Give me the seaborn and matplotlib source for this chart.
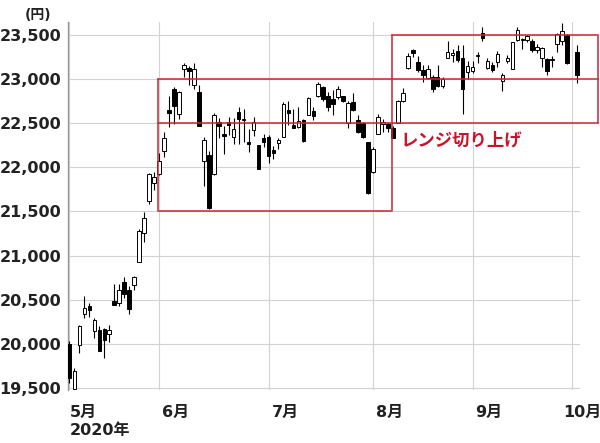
import numpy as np
import pandas as pd
import matplotlib
matplotlib.use("Agg")
import matplotlib.pyplot as plt
from matplotlib.transforms import ScaledTranslation
import seaborn as sns

# trading days (Oct 1 2020 had no trading, kept as an empty slot)
days = {
    5: [1, 7, 8, 11, 12, 13, 14, 15, 18, 19, 20, 21, 22, 25, 26, 27, 28, 29],
    6: [1, 2, 3, 4, 5, 8, 9, 10, 11, 12, 15, 16, 17, 18, 19, 22, 23, 24, 25, 26, 29, 30],
    7: [1, 2, 3, 6, 7, 8, 9, 10, 13, 14, 15, 16, 17, 20, 21, 22, 27, 28, 29, 30, 31],
    8: [3, 4, 5, 6, 7, 11, 12, 13, 14, 17, 18, 19, 20, 21, 24, 25, 26, 27, 28, 31],
    9: [1, 2, 3, 4, 7, 8, 9, 10, 11, 14, 15, 16, 17, 18, 23, 24, 25, 28, 29, 30],
    10: [1, 2],
}

opens = [20000, 19490, 19990, 20340, 20430, 20145, 20155, 20165, 20110, 20485, 20460, 20700, 20610, 20665, 20930, 21255, 21615, 21820,
         21920, 22180, 22650, 22880, 22600, 23115, 23125, 22930, 22845, 22065, 22140, 21920, 22510, 22370, 22515, 22345, 22625, 22535, 22285, 22415, 22255, 22335,
         22345, 22195, 22270, 22345, 22650, 22480, 22450, 22535, 22595, 22630, 22800, 22910, 22810, 22770, 22790, 22800, 22495, 22735, 22535, 22495, 22280,
         21950, 22380, 22485, 22485, 22440, 22495, 22745, 23125, 23325, 23190, 23095, 23005, 23020, 23020, 22915, 23240, 23265, 23310, 23240, 23080,
         23090, 23255, 23520, 23125, 23160, 23185, 22970, 23200, 23115, 23435, 23440, 23440, 23430, 23325, 23240, 23220, 23210, 23390, 23430, 23490,
         np.nan, 23305]
highs = [20030, 19730, 20215, 20540, 20460, 20295, 20200, 20185, 20215, 20675, 20675, 20755, 20655, 20765, 21300, 21490, 21930, 21950,
         22155, 22400, 22810, 22910, 22865, 23180, 23140, 23180, 22925, 22345, 22180, 22610, 22560, 22470, 22570, 22555, 22685, 22655, 22435, 22570, 22255, 22370,
         22365, 22240, 22330, 22735, 22745, 22660, 22675, 22540, 22790, 22680, 22965, 22920, 22845, 22870, 22920, 22810, 22750, 22835, 22585, 22510, 22290,
         22230, 22605, 22550, 22515, 22460, 22760, 22890, 23290, 23340, 23255, 23150, 23150, 23040, 23150, 23020, 23430, 23340, 23380, 23380, 23200,
         23200, 23300, 23585, 23230, 23195, 23310, 23060, 23270, 23420, 23590, 23465, 23495, 23445, 23390, 23360, 23240, 23255, 23520, 23625, 23510,
         np.nan, 23380]
lows = [19560, 19480, 19900, 20300, 20310, 20070, 19920, 19845, 20020, 20445, 20430, 20520, 20345, 20610, 20930, 21150, 21585, 21745,
        21910, 22115, 22455, 22490, 22545, 23020, 22925, 22880, 22460, 21785, 21530, 21910, 22325, 22150, 22360, 22265, 22265, 22290, 22175, 22355, 21975, 22230,
        22045, 22090, 22200, 22340, 22475, 22440, 22440, 22290, 22585, 22530, 22795, 22750, 22640, 22585, 22770, 22735, 22440, 22640, 22390, 22325, 21700,
        21930, 22370, 22400, 22400, 22325, 22495, 22735, 23110, 23250, 23075, 22965, 22995, 22855, 22910, 22890, 23230, 23190, 23190, 22600, 23000,
        23060, 23175, 23430, 23105, 23080, 23135, 22865, 23175, 23115, 23430, 23340, 23420, 23300, 23290, 23135, 23040, 23130, 23300, 23380, 23170,
        np.nan, 22955]
closes = [19620, 19695, 20200, 20405, 20380, 20275, 19925, 20045, 20155, 20445, 20615, 20565, 20400, 20755, 21280, 21425, 21925, 21885,
          22070, 22330, 22610, 22695, 22855, 23160, 23085, 23110, 22470, 22310, 21540, 22590, 22460, 22350, 22480, 22435, 22545, 22545, 22260, 22510, 21985, 22285,
          22130, 22155, 22310, 22715, 22610, 22440, 22525, 22295, 22780, 22580, 22945, 22770, 22685, 22715, 22880, 22745, 22725, 22650, 22400, 22345, 21710,
          22200, 22570, 22510, 22440, 22335, 22745, 22840, 23255, 23290, 23095, 23040, 23115, 22880, 22915, 22995, 23305, 23290, 23210, 22880, 23140,
          23135, 23270, 23465, 23200, 23095, 23285, 23040, 23230, 23410, 23555, 23450, 23480, 23320, 23360, 23345, 23090, 23220, 23505, 23540, 23180,
          np.nan, 23040]

month_labels = ['5月\n2020年', '6月', '7月', '8月', '9月', '10月']
y_ticks = [19500, 20000, 20500, 21000, 21500, 22000, 22500, 23000, 23500]

dates = [pd.Timestamp(2020, m, d) for m, ds in days.items() for d in ds]
df = pd.DataFrame({'date': dates, 'open': opens, 'high': highs, 'low': lows, 'close': closes})
df['pos'] = np.arange(len(df))
df['up'] = df['close'] >= df['open']
month_pos = df.groupby(df['date'].dt.month)['pos'].min().tolist()

sns.set_theme(style='white')
plt.rcParams['font.family'] = ['DejaVu Sans', 'Noto Sans CJK JP']

fig = plt.figure(figsize=(6.0, 4.43), dpi=100)
ax = fig.add_axes([0.1133, 0.1196, 0.8534, 0.8304])

red = '#c42a34'
grid_c = '#d2d2d2'

# candles
d = df.dropna()
ax.vlines(d['pos'], d['low'], d['high'], color='black', linewidth=0.8, zorder=3)
body_bottom = d[['open', 'close']].min(axis=1)
body_h = (d['close'] - d['open']).abs().clip(lower=8)
ax.bar(d['pos'], body_h, bottom=body_bottom, width=0.72,
       color=np.where(d['up'], 'white', 'black'), edgecolor='black', linewidth=0.7, zorder=4)

# range boxes
bx0, bx1, bx2 = 17.8, 64.9, 106.3
line_kw = dict(color=red, linewidth=1.3, alpha=0.85, clip_on=False, zorder=5)
ax.plot([bx0, bx0, bx1, bx1], [23000, 21500, 21500, 23500], **line_kw)
ax.plot([bx0, bx2], [23000, 23000], **line_kw)
ax.plot([bx0, bx2], [22500, 22500], **line_kw)
ax.plot([bx1, bx2, bx2], [23500, 23500, 22500], **line_kw)
ax.text(66.6, 22300, 'レンジ切り上げ', color='#c8142a', fontsize=12.5, fontweight='bold',
        family=['Noto Sans CJK JP'], ha='left', va='center', zorder=6)

ax.set_xlim(-0.3, 102.6)
ax.set_ylim(19480, 23640)
ax.set_yticks(y_ticks)
ax.set_yticklabels([f'{v:,}' for v in y_ticks])
ax.set_xticks(month_pos)
ax.set_xticklabels(month_labels, ha='left', multialignment='left')
ax.grid(True, color=grid_c, linewidth=0.8, zorder=0)
ax.set_axisbelow(True)

for s in ['top', 'right', 'bottom']:
    ax.spines[s].set_visible(False)
ax.spines['left'].set_color('#999999')
ax.spines['left'].set_linewidth(1.0)

ax.tick_params(axis='y', length=0, pad=5, labelsize=11.5, labelcolor='#222222')
ax.tick_params(axis='x', length=5, width=0.8, color=grid_c, pad=6, labelsize=11.5, labelcolor='#222222')
for lab in ax.get_xticklabels() + ax.get_yticklabels():
    lab.set_fontweight('bold')

# small horizontal nudges of the month labels
xlabs = ax.get_xticklabels()
for lab in xlabs[1:-1]:
    lab.set_transform(lab.get_transform() + ScaledTranslation(3 / 100, 0, fig.dpi_scale_trans))
xlabs[-1].set_transform(xlabs[-1].get_transform() + ScaledTranslation(-9 / 100, 0, fig.dpi_scale_trans))

fig.text(0.064, 0.966, '(円)', fontsize=10, fontweight='bold', color='#222222', ha='center', va='center')

fig.savefig('out.png', dpi=100)
